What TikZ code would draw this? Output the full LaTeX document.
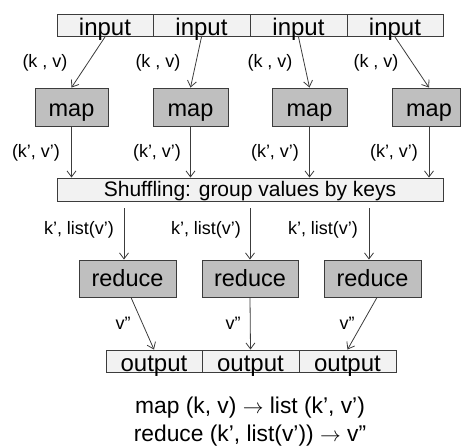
\documentclass[tikz,border=0pt]{standalone}
\usepackage{fontspec}
\setmainfont{Liberation Sans}
\usetikzlibrary{arrows.meta}
\definecolor{lightbox}{HTML}{F2F2F2}
\definecolor{darkbox}{HTML}{BFBFBF}
\definecolor{edge}{HTML}{3C3C3C}
\tikzset{
  bigtxt/.style={font=\fontsize{23.5}{27}\selectfont},
  formtxt/.style={font=\fontsize{22.8}{27}\selectfont, inner sep=0pt, anchor=base},
  cellbox/.style={draw=edge, line width=0.9pt, fill=lightbox, inner sep=0pt,
    font=\fontsize{24}{27}\selectfont, minimum height=22pt},
  inrow/.style={cellbox, text height=20pt, text depth=1pt},
  outrow/.style={cellbox, text height=21pt, text depth=0pt},
  graybox/.style={draw=edge, line width=0.9pt, fill=darkbox, inner sep=0pt, bigtxt},
  mapbox/.style={graybox, minimum height=38pt, text height=19pt, text depth=0pt},
  redbox/.style={graybox, minimum height=37pt, text height=16pt, text depth=0pt},
  lbl/.style={font=\fontsize{18}{20}\selectfont, inner sep=0pt},
  flow/.style={draw=edge, line width=0.8pt, -{Straight Barb[length=6pt,width=9pt]}}
}
\begin{document}
\begin{tikzpicture}[x=1pt,y=-1pt]
\useasboundingbox (0,0) rectangle (461,445);
% input cells
\node[inrow, minimum width=96pt] (in1) at (105,25.5) {input};
\node[inrow, minimum width=97pt] (in2) at (201.5,25.5) {input};
\node[inrow, minimum width=97pt] (in3) at (298.5,25.5) {input};
\node[inrow, minimum width=96pt] (in4) at (395,25.5) {input};
% map boxes
\node[mapbox, minimum width=73pt] (map1) at (71.5,107) {map};
\node[mapbox, minimum width=75pt] (map2) at (190.5,107) {map};
\node[mapbox, minimum width=75pt] (map3) at (309.5,107) {map};
\node[mapbox, minimum width=68pt] (map4) at (426,107) {\hspace*{6pt}map};
% shuffle
\node[draw=edge, line width=0.9pt, fill=lightbox, inner sep=0pt,
      font=\fontsize{21}{24}\selectfont, minimum width=386pt, minimum height=23pt,
      text height=14pt, text depth=0pt] (shuf) at (250,189.5) {Shuffling: group values by keys};
% reduce boxes
\node[redbox, minimum width=97pt] (red1) at (127.5,278.5) {reduce};
\node[redbox, minimum width=96pt] (red2) at (250,278.5) {reduce};
\node[redbox, minimum width=97pt] (red3) at (372.5,278.5) {reduce};
% output cells
\node[outrow, minimum width=96pt] (out1) at (154,361) {output};
\node[outrow, minimum width=97pt] (out2) at (250.5,361) {output};
\node[outrow, minimum width=97pt] (out3) at (347.5,361) {output};
% input -> map
\draw[flow] (in1.south) -- (map1.north);
\draw[flow] (in2.south) -- (map2.north);
\draw[flow] (in3.south) -- (map3.north);
\draw[flow] (in4.south) -- ([xshift=3pt]map4.north);
% map -> shuffle
\draw[flow] (map1.south) -- (map1.south |- shuf.north);
\draw[flow] (map2.south) -- (map2.south |- shuf.north);
\draw[flow] (map3.south) -- (map3.south |- shuf.north);
\draw[flow] ([xshift=3pt]map4.south) -- ([xshift=3pt]map4.south |- shuf.north);
% shuffle -> reduce
\coordinate (s1) at ([xshift=-3.5pt,yshift=-7pt]red1.north |- shuf.south);
\coordinate (s2) at ([yshift=-7pt]red2.north |- shuf.south);
\coordinate (s3) at ([xshift=-3.5pt,yshift=-7pt]red3.north |- shuf.south);
\draw[flow] (s1) -- ([xshift=-3.5pt]red1.north);
\draw[flow] (s2) -- (red2.north);
\draw[flow] (s3) -- ([xshift=-3.5pt]red3.north);
% reduce -> output
\draw[flow] ([xshift=3.5pt]red1.south) -- (out1.north);
\draw[flow] (red2.south) -- (out2.north);
\draw[flow] ([xshift=4.5pt]red3.south) -- (out3.north);
% labels
\node[lbl] (l1) at (45,63) {(k , v)};
\node[lbl] (l2) at (158,63) {(k , v)};
\node[lbl] (l3) at (270,63) {(k , v)};
\node[lbl] (l4) at (376,63) {(k , v)};
\node[lbl] (m1) at (36,153) {(k’, v’)};
\node[lbl] (m2) at (157,153) {(k’, v’)};
\node[lbl] (m3) at (275,153) {(k’, v’)};
\node[lbl] (m4) at (394,153) {(k’, v’)};
\node[lbl] (r1) at (79,230) {k’, list(v’)};
\node[lbl] (r2) at (206,230) {k’, list(v’)};
\node[lbl] (r3) at (323,230) {k’, list(v’)};
\node[lbl] (o1) at (123,323) {v”};
\node[lbl] (o2) at (233,323) {v”};
\node[lbl] (o3) at (347,323) {v”};
% formulas
\node[formtxt] (f1) at (250,413.5) {map (k, v) $\rightarrow$ list (k’, v’)};
\node[formtxt] (f2) at (250,441) {reduce (k’, list(v’)) $\rightarrow$ v”};
\end{tikzpicture}
\end{document}
